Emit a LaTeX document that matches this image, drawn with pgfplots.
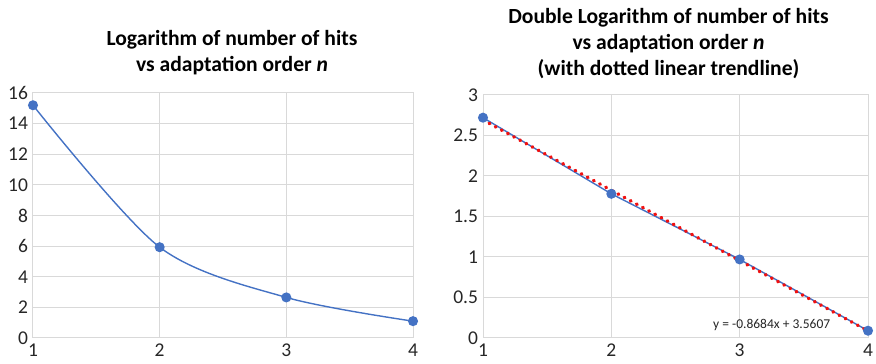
\documentclass[border=0pt]{standalone}
\usepackage{pgfplots}
\pgfplotsset{compat=1.18}
\usepackage{fontspec}
\setmainfont{Carlito}
\definecolor{xlblue}{HTML}{4472C4}
\definecolor{xlgrid}{HTML}{D9D9D9}
\definecolor{xlred}{HTML}{F01010}
\pgfplotsset{
  xlaxis/.style={
    scale only axis,
    anchor=south west,
    axis line style={draw=xlgrid, line width=1pt},
    grid=major,
    major grid style={draw=xlgrid, line width=1pt},
    major tick length=0pt,
    xmin=1, xmax=4,
    xtick={1,2,3,4},
    /pgf/number format/assume math mode=true,
    ticklabel style={font=\fontsize{19.5}{20}\selectfont, text=black!85},
    xticklabel style={yshift=-2.5pt},
    yticklabel style={xshift=-1.5pt},
  }
}
\begin{document}
\begin{tikzpicture}[x=1pt,y=1pt]
\path[use as bounding box] (0,0) rectangle (876,364);
% left chart
\begin{axis}[xlaxis, at={(33pt,26pt)}, width=380pt, height=245pt,
  ymin=0, ymax=16, ytick={0,2,4,6,8,10,12,14,16}]
\addplot[xlblue, line width=1.4pt, smooth, tension=0.5, mark=*, mark size=4.3pt,
  mark options={fill=xlblue, draw=xlblue}]
  coordinates {(1,15.2) (2,5.93) (3,2.65) (4,1.10)};
\end{axis}
% right chart
\begin{axis}[xlaxis, at={(483pt,26pt)}, width=385pt, height=243pt, clip=false,
  ymin=0, ymax=3, ytick={0,0.5,1,1.5,2,2.5,3},
  yticklabel style={/pgf/number format/.cd, fixed, precision=1}]
\addplot[xlblue, line width=1.4pt, mark=*, mark size=4.3pt,
  mark options={fill=xlblue, draw=xlblue}]
  coordinates {(1,2.72) (2,1.78) (3,0.97) (4,0.09)};
\addplot[xlred, line width=3.4pt, line cap=round, dash pattern=on 0.8pt off 6.2pt]
  coordinates {(1,2.6923) (4,0.0871)};
\end{axis}
% titles
\begin{scope}[every node/.style={font=\bfseries\fontsize{21.6}{22}\selectfont, anchor=base, inner sep=0pt}]
\node at (232,318) {Logarithm of number of hits};
\node at (232,292) {vs adaptation order \textit{n}};
\node at (668.5,340) {Double Logarithm of number of hits};
\node at (668.5,314) {vs adaptation order \textit{n}};
\node at (668.5,288) {(with dotted linear trendline)};
\end{scope}
\node[anchor=base west, inner sep=0pt, font=\fontsize{13.5}{14}\selectfont, text=black!85] at (713,35) {y = -0.8684x + 3.5607};
\end{tikzpicture}
\end{document}
